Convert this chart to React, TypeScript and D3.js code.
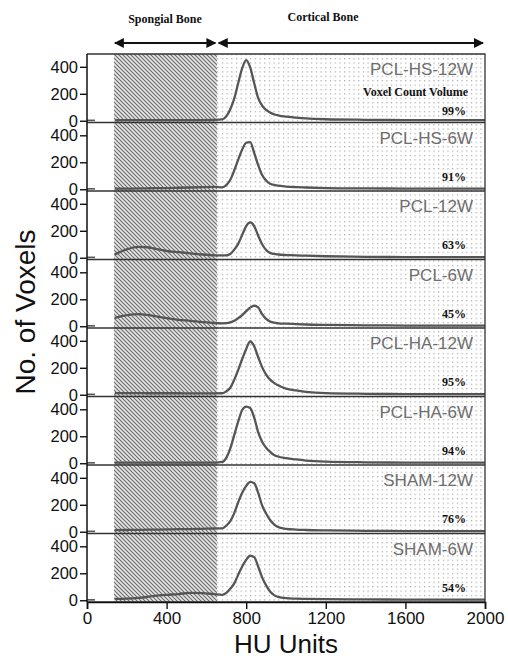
import React, { useRef, useEffect } from "react";
import * as d3 from "d3";

// HU bins shared by every histogram
const hu = [140, 200, 260, 300, 340, 400, 460, 520, 580, 640, 680, 700, 720, 740, 760, 780, 800, 820, 840, 860, 880, 900, 920, 940, 960, 1000, 1050, 1100, 1200, 1400, 1600, 1800, 2000];
const stubHu = [0, 20, 40];

const groups = ["PCL-HS-12W", "PCL-HS-6W", "PCL-12W", "PCL-6W", "PCL-HA-12W", "PCL-HA-6W", "SHAM-12W", "SHAM-6W"];
const volumes = ["99%", "91%", "63%", "45%", "95%", "94%", "76%", "54%"];

const pclHs12 = [5, 5, 5, 5, 5, 5, 5, 5, 5, 6, 10, 33, 85, 165, 280, 390, 450, 395, 280, 170, 112, 80, 62, 48, 40, 30, 23, 17, 11, 7, 5, 4, 4];
const pclHs6 = [4, 5, 6, 7, 8, 9, 11, 13, 15, 17, 14, 30, 70, 140, 220, 295, 345, 350, 270, 180, 105, 65, 40, 32, 26, 20, 16, 13, 9, 6, 5, 4, 4];
const pcl12 = [25, 62, 80, 78, 68, 50, 41, 33, 24, 18, 17, 18, 28, 60, 105, 170, 235, 262, 235, 165, 100, 58, 36, 28, 24, 20, 18, 15, 11, 7, 5, 4, 4];
const pcl6 = [62, 82, 90, 85, 75, 60, 48, 40, 31, 24, 22, 23, 28, 40, 60, 83, 112, 138, 152, 140, 90, 55, 35, 26, 22, 19, 16, 13, 10, 7, 5, 4, 4];
const pclHa12 = [12, 12, 12, 11, 11, 11, 11, 10, 10, 10, 11, 25, 52, 112, 185, 265, 340, 395, 360, 280, 205, 150, 112, 88, 70, 46, 32, 22, 12, 7, 5, 4, 4];
const pclHa6 = [5, 5, 5, 5, 5, 5, 5, 5, 5, 5, 10, 40, 110, 210, 310, 395, 420, 410, 340, 230, 160, 115, 85, 62, 50, 38, 28, 20, 12, 7, 5, 4, 4];
const sham12 = [12, 13, 14, 15, 16, 17, 19, 20, 22, 24, 25, 45, 78, 138, 220, 290, 340, 370, 360, 290, 195, 135, 87, 55, 35, 22, 16, 13, 10, 7, 5, 4, 4];
const sham6 = [10, 12, 18, 24, 32, 40, 46, 55, 53, 45, 40, 55, 85, 125, 190, 250, 300, 330, 320, 250, 170, 110, 65, 38, 25, 15, 12, 10, 8, 6, 5, 4, 4];
const stubVals = [3, 3, 3];

const series = [pclHs12, pclHs6, pcl12, pcl6, pclHa12, pclHa6, sham12, sham6];

const yTicks = [0, 200, 400];
const xTicks = [0, 400, 800, 1200, 1600, 2000];
const spongialRange = [136, 653];

const sans = "'Liberation Sans', Arial, Helvetica, sans-serif";
const serif = "'Liberation Serif', 'Times New Roman', serif";

const App = () => {
  const svgRef = useRef<SVGSVGElement>(null);

  useEffect(() => {
    const width = 508;
    const height = 660;
    const left = 87;
    const right = 485;
    const top = 54;
    const panelH = 68.5;
    const bottom = top + panelH * groups.length;

    const svg = d3.select(svgRef.current).attr("width", width).attr("height", height);
    svg.selectAll("*").remove();

    const x = d3.scaleLinear().domain([0, 2000]).range([left, right]);

    const defs = svg.append("defs");
    const hatch = defs
      .append("pattern")
      .attr("id", "hatch")
      .attr("patternUnits", "userSpaceOnUse")
      .attr("width", 4)
      .attr("height", 4);
    hatch.append("rect").attr("width", 4).attr("height", 4).attr("fill", "#e6e6e6");
    hatch
      .append("path")
      .attr("d", "M0,0L4,4M-1,3L1,5M3,-1L5,1")
      .attr("stroke", "#6a6a6a")
      .attr("stroke-width", 1.1);

    const dots = defs
      .append("pattern")
      .attr("id", "dots")
      .attr("patternUnits", "userSpaceOnUse")
      .attr("width", 4.7)
      .attr("height", 4.4);
    dots.append("rect").attr("width", 4.7).attr("height", 4.4).attr("fill", "#fff");
    dots.append("rect").attr("x", 1).attr("y", 1).attr("width", 1.1).attr("height", 1.1).attr("fill", "#999");

    // background regions
    svg
      .append("rect")
      .attr("x", x(spongialRange[0]))
      .attr("y", top)
      .attr("width", x(spongialRange[1]) - x(spongialRange[0]))
      .attr("height", bottom - top)
      .attr("fill", "url(#hatch)");
    svg
      .append("rect")
      .attr("x", x(spongialRange[1]))
      .attr("y", top)
      .attr("width", x(2000) - x(spongialRange[1]))
      .attr("height", bottom - top)
      .attr("fill", "url(#dots)");

    const line = d3
      .line<number>()
      .x((_, i) => x(hu[i]))
      .curve(d3.curveMonotoneX);

    series.forEach((vals, k) => {
      const pTop = top + k * panelH;
      const y = d3.scaleLinear().domain([-13, 495]).range([pTop + panelH, pTop]);
      const g = svg.append("g");

      g.append("path")
        .datum(vals)
        .attr("fill", "none")
        .attr("stroke", "#555")
        .attr("stroke-width", 2.3)
        .attr("stroke-linejoin", "round")
        .attr("d", line.y((d) => y(d)));

      g.append("path")
        .datum(stubVals)
        .attr("fill", "none")
        .attr("stroke", "#555")
        .attr("stroke-width", 1.6)
        .attr(
          "d",
          d3
            .line<number>()
            .x((_, i) => x(stubHu[i]))
            .y((d) => y(d))
        );

      // divider under the panel
      g.append("line")
        .attr("x1", left)
        .attr("x2", right)
        .attr("y1", pTop + panelH)
        .attr("y2", pTop + panelH)
        .attr("stroke", "#333")
        .attr("stroke-width", 1.3);

      const axis = g
        .append("g")
        .attr("transform", `translate(${left},0)`)
        .call(d3.axisLeft(y).tickValues(yTicks).tickSize(7).tickPadding(2));
      axis.select(".domain").remove();
      axis.selectAll("line").attr("stroke", "#111").attr("stroke-width", 1.4);
      axis
        .selectAll("text")
        .attr("font-family", sans)
        .attr("font-size", 16.5)
        .attr("fill", "#111");

      g.append("text")
        .attr("x", 473)
        .attr("y", pTop + 21)
        .attr("text-anchor", "end")
        .attr("font-family", sans)
        .attr("font-size", 17)
        .attr("fill", "#6e6e6e")
        .text(groups[k]);

      g.append("text")
        .attr("x", 466)
        .attr("y", pTop + (k === 0 ? 61 : 58))
        .attr("text-anchor", "end")
        .attr("font-family", serif)
        .attr("font-weight", "bold")
        .attr("font-size", 12)
        .attr("fill", "#111")
        .text(volumes[k]);
    });

    svg
      .append("text")
      .attr("x", 468)
      .attr("y", top + 42)
      .attr("text-anchor", "end")
      .attr("font-family", serif)
      .attr("font-weight", "bold")
      .attr("font-size", 12)
      .attr("fill", "#111")
      .text("Voxel Count Volume");

    // frame
    svg
      .append("path")
      .attr("d", `M${left},${top}H${right}V${bottom}`)
      .attr("fill", "none")
      .attr("stroke", "#333")
      .attr("stroke-width", 1.3);
    svg
      .append("line")
      .attr("x1", left)
      .attr("x2", left)
      .attr("y1", top)
      .attr("y2", bottom)
      .attr("stroke", "#111")
      .attr("stroke-width", 1.5);

    const xAxis = svg
      .append("g")
      .attr("transform", `translate(0,${bottom})`)
      .call(d3.axisBottom(x).tickValues(xTicks).tickSize(7).tickPadding(3).tickFormat(d3.format("d")));
    xAxis.select(".domain").attr("stroke", "#111").attr("stroke-width", 1.6);
    xAxis.selectAll("line").attr("stroke", "#111").attr("stroke-width", 1.4);
    xAxis.selectAll("text").attr("font-family", sans).attr("font-size", 17).attr("fill", "#111");

    svg
      .append("text")
      .attr("x", 286)
      .attr("y", 653)
      .attr("text-anchor", "middle")
      .attr("font-family", sans)
      .attr("font-size", 26)
      .attr("fill", "#111")
      .text("HU Units");

    svg
      .append("text")
      .attr("transform", `translate(35,${(227 + 397) / 2}) rotate(-90)`)
      .attr("text-anchor", "middle")
      .attr("font-family", sans)
      .attr("font-size", 28)
      .attr("fill", "#111")
      .text("No. of Voxels");

    // region arrows
    defs
      .append("marker")
      .attr("id", "head")
      .attr("viewBox", "0 0 10 10")
      .attr("refX", 9)
      .attr("refY", 5)
      .attr("markerWidth", 5)
      .attr("markerHeight", 5)
      .attr("orient", "auto-start-reverse")
      .append("path")
      .attr("d", "M0,0L10,5L0,10z")
      .attr("fill", "#111");

    const arrows = [
      { from: 140, to: 645, label: "Spongial Bone", ly: 23 },
      { from: 662, to: 1990, label: "Cortical Bone", ly: 21 },
    ];
    arrows.forEach((a, i) => {
      svg
        .append("line")
        .attr("x1", x(a.from))
        .attr("x2", x(a.to))
        .attr("y1", 43)
        .attr("y2", 43)
        .attr("stroke", "#111")
        .attr("stroke-width", 2)
        .attr("marker-start", "url(#head)")
        .attr("marker-end", "url(#head)");
      svg
        .append("text")
        .attr("x", i === 0 ? 165 : 323)
        .attr("y", a.ly)
        .attr("text-anchor", "middle")
        .attr("font-family", serif)
        .attr("font-weight", "bold")
        .attr("font-size", 12)
        .attr("fill", "#111")
        .text(a.label);
    });
  }, []);

  return (
    <div style={{ position: "absolute", left: 0, top: 0 }}>
      <svg ref={svgRef}></svg>
    </div>
  );
};

export default App;
